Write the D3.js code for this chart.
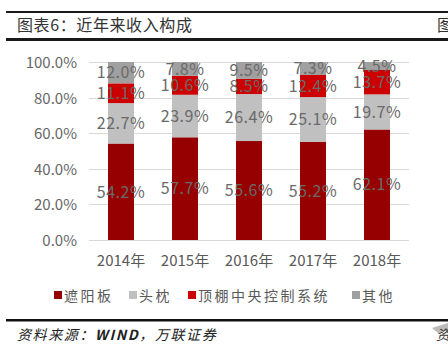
<!DOCTYPE html>
<html><head><meta charset="utf-8">
<script src="https://cdn.jsdelivr.net/npm/d3@7"></script>
<style>
html,body{margin:0;padding:0;background:#fff;overflow:hidden;}
svg{display:block;}
text{font-family:"Noto Sans CJK SC","Noto Sans",sans-serif;}
</style></head>
<body>
<svg id="c" width="448" height="349"></svg>
<script>
const categories = ["2014年","2015年","2016年","2017年","2018年"];
const seriesNames = ["遮阳板","头枕","顶棚中央控制系统","其他"];
const sunVisor = [54.2, 57.7, 55.6, 55.2, 62.1];
const headrest = [22.7, 23.9, 26.4, 25.1, 19.7];
const roofConsole = [11.1, 10.6, 8.5, 12.4, 13.7];
const others = [12.0, 7.8, 9.5, 7.3, 4.5];
const yTicks = [0, 20, 40, 60, 80, 100];
const colors = ["#960000", "#c0c0c0", "#cc0000", "#a0a0a0"];

const svg = d3.select("#c");
const seriesVals = [sunVisor, headrest, roofConsole, others];
const rows = categories.map((c, i) => {
  const r = {cat: c};
  seriesNames.forEach((s, k) => r[s] = seriesVals[k][i]);
  return r;
});
const stack = d3.stack().keys(seriesNames)(rows);

const x = d3.scaleBand().domain(categories).range([89, 409]).paddingInner(0.594).paddingOuter(0.297);
const y = d3.scaleLinear().domain([0, 100]).range([240, 62]);

// Title bar
svg.append("rect").attr("x", 6).attr("y", 11).attr("width", 442).attr("height", 2).attr("fill", "#1a1a1a");
svg.append("rect").attr("x", 6).attr("y", 38).attr("width", 442).attr("height", 3).attr("fill", "#1a1a1a");
svg.append("text").attr("x", 17).attr("y", 31).attr("font-size", 16).attr("fill", "#333")
  .attr("letter-spacing", 0.6).text("图表6：近年来收入构成");
svg.append("text").attr("x", 437).attr("y", 31).attr("font-size", 16).attr("fill", "#333").text("图");

// Gridlines
svg.append("g").selectAll("line").data(yTicks).join("line")
  .attr("x1", 89).attr("x2", 409)
  .attr("y1", d => Math.round(y(d)) + 0.5).attr("y2", d => Math.round(y(d)) + 0.5)
  .attr("stroke", "#d9d9d9").attr("stroke-width", 1);

// Y axis labels
const yAxis = d3.axisLeft(y).tickValues(yTicks).tickSize(0).tickPadding(0)
  .tickFormat(d => d3.format(".1f")(d) + "%");
const ya = svg.append("g").attr("transform", "translate(77,0)").call(yAxis);
ya.select(".domain").remove();
ya.selectAll("text").attr("font-size", 15).attr("fill", "#666")
  .attr("font-family", "\"Noto Sans CJK SC\",sans-serif").attr("dy", "0.36em");

// Bars
const g = svg.append("g");
stack.forEach((layer, k) => {
  g.append("g").selectAll("rect").data(layer).join("rect")
    .attr("x", d => x(d.data.cat))
    .attr("width", x.bandwidth())
    .attr("y", d => y(d[1]))
    .attr("height", d => y(d[0]) - y(d[1]))
    .attr("fill", colors[k]);
});
// Labels
stack.forEach((layer, k) => {
  g.append("g").selectAll("text").data(layer).join("text")
    .attr("x", d => x(d.data.cat) + x.bandwidth() / 2)
    .attr("y", d => (y(d[0]) + y(d[1])) / 2)
    .attr("dy", "0.36em")
    .attr("text-anchor", "middle")
    .attr("font-size", 16).attr("fill", "#6a6a6a").attr("letter-spacing", 0.5)
    .text(d => d3.format(".1f")(d[1] - d[0]) + "%");
});

// X axis labels
const xAxis = d3.axisBottom(x).tickSize(0).tickPadding(0);
const xa = svg.append("g").attr("transform", "translate(0,252)").call(xAxis);
xa.select(".domain").remove();
xa.selectAll("text").attr("font-size", 15).attr("fill", "#595959")
  .attr("font-family", "\"Noto Sans CJK SC\",sans-serif").attr("dy", "0.9em");

// Legend
const legendX = [54, 129, 188, 352];
const lg = svg.append("g");
seriesNames.forEach((s, k) => {
  lg.append("rect").attr("x", legendX[k]).attr("y", 291).attr("width", 8).attr("height", 8).attr("fill", colors[k]);
  lg.append("text").attr("x", legendX[k] + 10).attr("y", 300.5).attr("font-size", 14)
    .attr("fill", "#595959").attr("letter-spacing", 2.5).text(s);
});

// Footer
svg.append("rect").attr("x", 6).attr("y", 319).attr("width", 442).attr("height", 2.5).attr("fill", "#111");
const src = svg.append("text").attr("x", 17).attr("y", 340).attr("font-size", 14).attr("fill", "#222")
  .attr("font-style", "italic").attr("letter-spacing", 1.6);
src.append("tspan").text("资料来源：");
src.append("tspan").attr("font-weight", "bold").text("WIND");
src.append("tspan").text("，万联证券");
svg.append("path").attr("d", "M432,328 L448,323 L448,330 L438,333 Z").attr("fill", "#bbb");
svg.append("text").attr("x", 436).attr("y", 340).attr("font-size", 14).attr("fill", "#333")
  .attr("font-style", "italic").text("资");
</script>
</body></html>
